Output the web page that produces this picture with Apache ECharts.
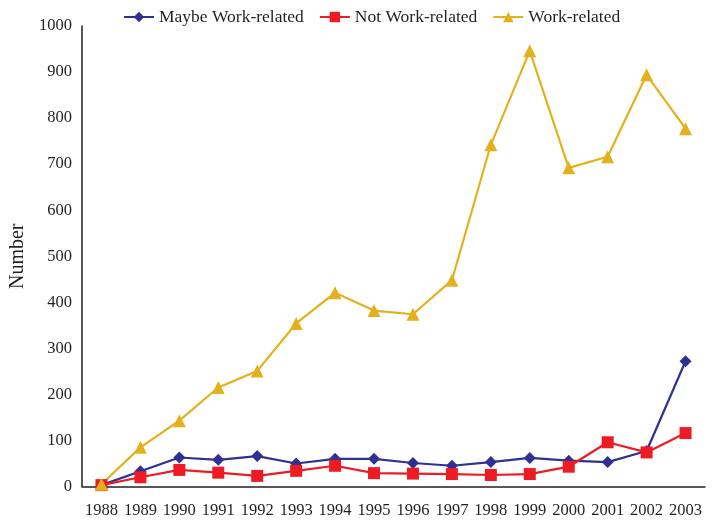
<!DOCTYPE html>
<html>
<head>
<meta charset="utf-8">
<script src="https://cdn.jsdelivr.net/npm/echarts@6/dist/echarts.min.js"></script>
<style>
  html, body { margin: 0; padding: 0; background: #fff; }
  #main { width: 718px; height: 520px; }
</style>
</head>
<body>
<div id="main"></div>
<script>
var years = ['1988','1989','1990','1991','1992','1993','1994','1995','1996','1997','1998','1999','2000','2001','2002','2003'];
var maybeWork = [3, 33, 63, 58, 66, 50, 60, 60, 51, 45, 53, 62, 56, 53, 77, 272];
var notWork = [3, 20, 36, 30, 23, 34, 45, 29, 28, 27, 25, 27, 43, 96, 74, 116];
var work = [5, 85, 143, 215, 251, 354, 421, 382, 374, 448, 742, 946, 692, 716, 894, 777];

var font = 'Liberation Serif, Times New Roman, serif';
var myChart = echarts.init(document.getElementById('main'));

var option = {
    animation: false,
    textStyle: { fontFamily: font },
    legend: {
        top: 3,
        left: 118,
        itemWidth: 30,
        itemHeight: 13,
        itemGap: 15,
        textStyle: { fontFamily: font, fontSize: 17.5, color: '#231f20' },
        data: ['Maybe Work-related', 'Not Work-related', 'Work-related']
    },
    grid: { left: 82, right: 13, top: 26, bottom: 33.5 },
    xAxis: {
        type: 'category',
        boundaryGap: true,
        data: years,
        axisLine: { lineStyle: { color: '#231f20', width: 1.5 } },
        axisTick: { show: false },
        axisLabel: { fontFamily: font, fontSize: 16.5, color: '#231f20', margin: 16, interval: 0 }
    },
    yAxis: {
        type: 'value',
        min: 0,
        max: 1000,
        interval: 100,
        name: 'Number',
        nameLocation: 'middle',
        nameGap: 53,
        nameTextStyle: { fontFamily: font, fontSize: 20, color: '#231f20' },
        axisLine: { show: true, lineStyle: { color: '#231f20', width: 1.5 } },
        axisTick: { show: false },
        splitLine: { show: false },
        axisLabel: {
            fontFamily: font, fontSize: 16.5, color: '#231f20', margin: 10,
            formatter: function (v) { return String(v); }
        }
    },
    series: [
        {
            name: 'Maybe Work-related',
            type: 'line',
            data: maybeWork,
            symbol: 'diamond',
            symbolSize: 12,
            color: '#2e3192',
            lineStyle: { width: 2.2 }
        },
        {
            name: 'Not Work-related',
            type: 'line',
            data: notWork,
            symbol: 'rect',
            symbolSize: 12,
            color: '#ed1c24',
            lineStyle: { width: 2.2 }
        },
        {
            name: 'Work-related',
            type: 'line',
            data: work,
            symbol: 'triangle',
            symbolSize: 13,
            color: '#e3b11d',
            lineStyle: { width: 2.2 }
        }
    ]
};

myChart.setOption(option);
</script>
</body>
</html>
